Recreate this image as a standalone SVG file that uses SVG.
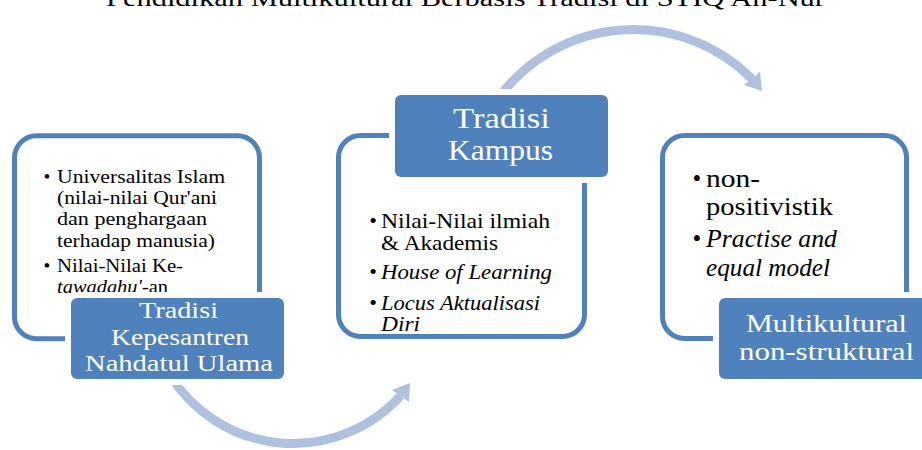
<svg xmlns="http://www.w3.org/2000/svg" width="922" height="450" viewBox="0 0 922 450">
<style>
.frame{fill:#fff;stroke:#4F81BD;stroke-width:5}
.halo{fill:#fff}
.label{fill:#4F81BD}
.lt{fill:#fff}
.bt{fill:#000}
.it{font-style:italic}
.arc{fill:none;stroke:#AFC1DE;stroke-width:9}
.head{fill:#AFC1DE}
</style>
<defs>
<clipPath id="clip1"><rect x="20" y="140" width="240" height="153"/></clipPath>
</defs>
<rect width="922" height="450" fill="#fff"/>
<g font-family="'Liberation Serif', 'DejaVu Serif', serif">
<text class="bt" x="106" y="6" font-size="24" textLength="719" lengthAdjust="spacingAndGlyphs">Pendidikan Multikultural Berbasis Tradisi di STIQ An-Nur</text>

<g id="connectors">
<path class="arc" d="M 500 96 A 167 167 0 0 1 752 79"/>
<polygon class="head" points="762,91 760,72 744,85"/>
<path class="arc" d="M 170 375 A 145 145 0 0 0 400.5 396"/>
<polygon class="head" points="410,383 392,390 409,402"/>
</g>

<g id="node1">
<rect class="frame" x="14.5" y="135.8" width="245" height="203" rx="22"/>
<g clip-path="url(#clip1)" font-size="19.5">
<text class="bt" x="47" y="183" text-anchor="middle">•</text>
<text class="bt" x="57" y="183" textLength="168" lengthAdjust="spacingAndGlyphs">Universalitas Islam</text>
<text class="bt" x="57" y="204" textLength="160" lengthAdjust="spacingAndGlyphs">(nilai-nilai Qur'ani</text>
<text class="bt" x="57" y="225" textLength="150" lengthAdjust="spacingAndGlyphs">dan penghargaan</text>
<text class="bt" x="57" y="246.5" textLength="158" lengthAdjust="spacingAndGlyphs">terhadap manusia)</text>
<text class="bt" x="47" y="271.5" text-anchor="middle">•</text>
<text class="bt" x="57" y="271.5" textLength="126" lengthAdjust="spacingAndGlyphs">Nilai-Nilai Ke-</text>
<text class="bt" x="57" y="293" textLength="111" lengthAdjust="spacingAndGlyphs"><tspan class="it">tawadahu'</tspan>-an</text>
</g>
<rect class="halo" x="65" y="292" width="225" height="93" rx="9"/>
<rect class="label" x="71" y="298" width="213" height="81" rx="6"/>
<text class="lt" x="139" y="318" font-size="24" textLength="79" lengthAdjust="spacingAndGlyphs">Tradisi</text>
<text class="lt" x="111" y="344.5" font-size="24" textLength="138" lengthAdjust="spacingAndGlyphs">Kepesantren</text>
<text class="lt" x="85" y="371" font-size="24" textLength="188" lengthAdjust="spacingAndGlyphs">Nahdatul Ulama</text>
</g>

<g id="node2">
<rect class="frame" x="338.5" y="135.5" width="246" height="201" rx="22"/>
<g font-size="22">
<text class="bt" x="373" y="228" text-anchor="middle">•</text>
<text class="bt" x="381" y="228" textLength="169" lengthAdjust="spacingAndGlyphs">Nilai-Nilai ilmiah</text>
<text class="bt" x="381" y="250" textLength="117" lengthAdjust="spacingAndGlyphs">&amp; Akademis</text>
<text class="bt" x="373" y="279" text-anchor="middle">•</text>
<text class="bt it" x="381" y="279" textLength="171" lengthAdjust="spacingAndGlyphs">House of Learning</text>
<text class="bt" x="373" y="310" text-anchor="middle">•</text>
<text class="bt it" x="381" y="310" textLength="159" lengthAdjust="spacingAndGlyphs">Locus Aktualisasi</text>
<text class="bt it" x="381" y="331" textLength="39" lengthAdjust="spacingAndGlyphs">Diri</text>
</g>
<rect class="halo" x="389" y="89" width="225" height="94" rx="9"/>
<rect class="label" x="395" y="95" width="213" height="82" rx="6"/>
<text class="lt" x="453" y="128" font-size="30" textLength="97" lengthAdjust="spacingAndGlyphs">Tradisi</text>
<text class="lt" x="448" y="160" font-size="30" textLength="105" lengthAdjust="spacingAndGlyphs">Kampus</text>
</g>

<g id="node3">
<rect class="frame" x="662.5" y="135.5" width="244" height="203" rx="22"/>
<g font-size="25">
<text class="bt" x="697" y="187" text-anchor="middle">•</text>
<text class="bt" x="706" y="187" textLength="54" lengthAdjust="spacingAndGlyphs">non-</text>
<text class="bt" x="706" y="215" textLength="127" lengthAdjust="spacingAndGlyphs">positivistik</text>
<text class="bt" x="697" y="247" text-anchor="middle">•</text>
<text class="bt it" x="706" y="247" textLength="131" lengthAdjust="spacingAndGlyphs">Practise and</text>
<text class="bt it" x="706" y="276" textLength="124" lengthAdjust="spacingAndGlyphs">equal model</text>
</g>
<rect class="halo" x="713" y="292" width="225" height="93" rx="9"/>
<rect class="label" x="719" y="298" width="213" height="81" rx="6"/>
<text class="lt" x="746" y="332" font-size="25" textLength="161" lengthAdjust="spacingAndGlyphs">Multikultural</text>
<text class="lt" x="739" y="360" font-size="25" textLength="175" lengthAdjust="spacingAndGlyphs">non-struktural</text>
</g>
</g>
</svg>
